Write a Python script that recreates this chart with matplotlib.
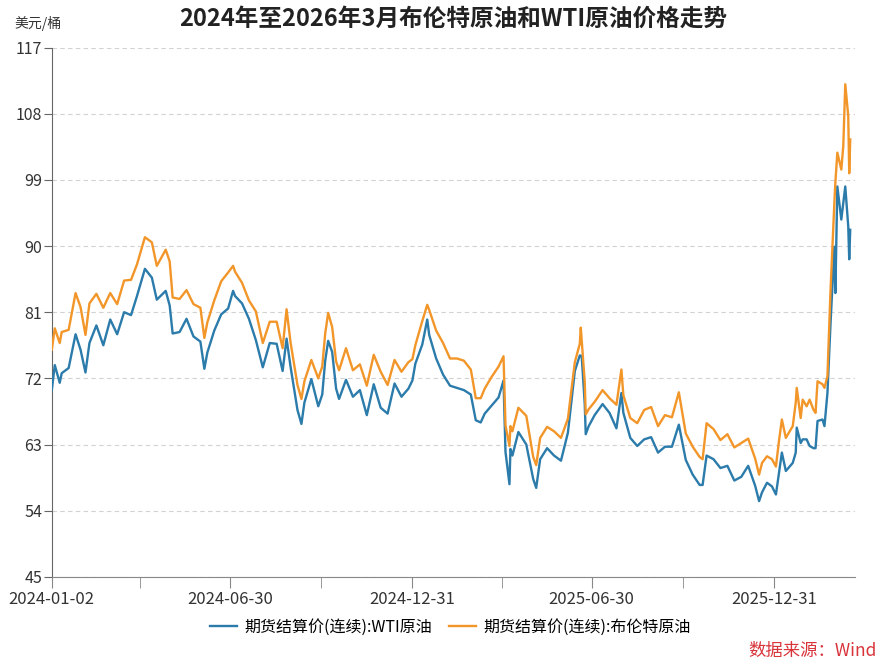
import matplotlib
matplotlib.use("Agg")
import matplotlib.pyplot as plt
import pandas as pd

plt.rcParams["font.family"] = ["Noto Sans CJK SC", "DejaVu Sans"]

TITLE = "2024年至2026年3月布伦特原油和WTI原油价格走势"
UNIT = "美元/桶"
SOURCE = "数据来源：Wind"
LABEL_WTI = "期货结算价(连续):WTI原油"
LABEL_BRENT = "期货结算价(连续):布伦特原油"

dates = [
    "2024-01-02", "2024-01-05", "2024-01-10", "2024-01-12", "2024-01-19", "2024-01-26",
    "2024-01-31", "2024-02-05", "2024-02-09", "2024-02-16", "2024-02-23", "2024-03-01",
    "2024-03-08", "2024-03-15", "2024-03-22", "2024-03-28", "2024-04-05", "2024-04-12",
    "2024-04-17", "2024-04-26", "2024-04-30", "2024-05-03", "2024-05-10", "2024-05-17",
    "2024-05-24", "2024-05-31", "2024-06-04", "2024-06-07", "2024-06-14", "2024-06-21",
    "2024-06-28", "2024-07-03", "2024-07-05", "2024-07-12", "2024-07-19", "2024-07-26",
    "2024-08-02", "2024-08-09", "2024-08-16", "2024-08-22", "2024-08-26", "2024-08-30",
    "2024-09-06", "2024-09-10", "2024-09-13", "2024-09-20", "2024-09-27", "2024-10-01",
    "2024-10-04", "2024-10-07", "2024-10-11", "2024-10-15", "2024-10-18", "2024-10-25",
    "2024-11-01", "2024-11-08", "2024-11-15", "2024-11-22", "2024-11-29", "2024-12-06",
    "2024-12-13", "2024-12-20", "2024-12-27", "2024-12-31", "2025-01-03", "2025-01-10",
    "2025-01-15", "2025-01-17", "2025-01-24", "2025-01-31", "2025-02-07", "2025-02-14",
    "2025-02-21", "2025-02-28", "2025-03-05", "2025-03-10", "2025-03-14", "2025-03-21",
    "2025-03-28", "2025-04-02", "2025-04-04", "2025-04-08", "2025-04-09", "2025-04-11",
    "2025-04-17", "2025-04-25", "2025-05-02", "2025-05-05", "2025-05-09", "2025-05-16",
    "2025-05-23", "2025-05-30", "2025-06-06", "2025-06-13", "2025-06-18", "2025-06-19",
    "2025-06-20", "2025-06-23", "2025-06-24", "2025-06-27", "2025-07-03", "2025-07-11",
    "2025-07-18", "2025-07-25", "2025-07-30", "2025-08-01", "2025-08-08", "2025-08-15",
    "2025-08-22", "2025-08-29", "2025-09-05", "2025-09-12", "2025-09-19", "2025-09-26",
    "2025-10-03", "2025-10-10", "2025-10-17", "2025-10-20", "2025-10-24", "2025-10-31",
    "2025-11-07", "2025-11-14", "2025-11-21", "2025-11-28", "2025-12-05", "2025-12-12",
    "2025-12-16", "2025-12-19", "2025-12-24", "2025-12-29", "2026-01-02", "2026-01-05",
    "2026-01-08", "2026-01-12", "2026-01-19", "2026-01-22", "2026-01-23", "2026-01-27",
    "2026-01-29", "2026-02-02", "2026-02-05", "2026-02-09", "2026-02-11", "2026-02-13",
    "2026-02-18", "2026-02-20", "2026-02-23", "2026-02-26", "2026-03-02", "2026-03-03",
    "2026-03-05", "2026-03-09", "2026-03-11", "2026-03-13", "2026-03-16", "2026-03-17",
    "2026-03-18",
]

wti = [
    70.4, 73.8, 71.4, 72.7, 73.4, 78.0,
    75.9, 72.8, 76.8, 79.2, 76.5, 80.0,
    78.0, 81.0, 80.6, 83.2, 86.9, 85.7,
    82.7, 83.9, 81.9, 78.1, 78.3, 80.1,
    77.7, 77.0, 73.3, 75.5, 78.5, 80.7,
    81.5, 83.9, 83.2, 82.2, 80.1, 77.2,
    73.5, 76.8, 76.7, 73.0, 77.4, 73.6,
    67.7, 65.8, 68.7, 71.9, 68.2, 69.8,
    74.4, 77.1, 75.6, 70.6, 69.2, 71.8,
    69.5, 70.4, 67.0, 71.2, 68.0, 67.2,
    71.3, 69.5, 70.6, 71.7, 74.0, 76.6,
    80.0, 77.9, 74.7, 72.5, 71.0, 70.7,
    70.4, 69.8, 66.3, 66.0, 67.2, 68.3,
    69.4, 71.7, 62.0, 57.6, 62.4, 61.5,
    64.7, 63.0, 58.3, 57.1, 61.0, 62.5,
    61.5, 60.8, 64.6, 73.0, 75.1, 75.1,
    74.9, 68.5, 64.4, 65.5, 67.0, 68.5,
    67.3, 65.2, 70.0, 67.3, 63.9, 62.8,
    63.7, 64.0, 61.9, 62.7, 62.7, 65.7,
    60.9, 58.9, 57.5, 57.5, 61.5, 61.0,
    59.8, 60.1, 58.1, 58.6, 60.1, 57.4,
    55.3, 56.5, 57.8, 57.3, 56.2, 59.1,
    61.9, 59.4, 60.5, 61.9, 65.3, 63.2,
    63.7, 63.7, 62.8, 62.5, 62.5, 66.2,
    66.4, 65.5, 70.0, 79.1, 89.9, 83.6,
    98.1, 93.6, 95.9, 98.1, 92.7, 88.2,
    92.2,
]

brent = [
    75.9, 78.8, 76.8, 78.3, 78.6, 83.6,
    81.7, 77.9, 82.2, 83.5, 81.6, 83.6,
    82.1, 85.3, 85.4, 87.5, 91.2, 90.5,
    87.3, 89.5, 87.9, 83.0, 82.8, 84.0,
    82.1, 81.6, 77.5, 79.6, 82.6, 85.2,
    86.4, 87.3, 86.5, 85.0, 82.6, 81.1,
    76.8, 79.7, 79.7, 76.1, 81.4, 76.9,
    71.1, 69.2, 71.6, 74.5, 72.0, 73.6,
    78.1, 80.9, 79.0, 74.3, 73.1, 76.1,
    73.1, 73.9, 71.0, 75.2, 72.9, 71.1,
    74.5, 72.9, 74.2, 74.6, 76.5, 79.8,
    82.0, 81.3, 78.5, 76.8, 74.7, 74.7,
    74.4, 73.2, 69.3, 69.3, 70.6, 72.2,
    73.6, 75.0, 65.6, 62.8, 65.5, 64.8,
    68.0, 66.9, 61.3, 60.2, 63.9, 65.4,
    64.8, 63.9, 66.5, 74.2, 76.7, 78.9,
    77.0, 71.5, 67.1, 67.8, 68.8, 70.4,
    69.3, 68.4, 73.2, 69.7, 66.6, 65.9,
    67.7, 68.1, 65.5, 67.0, 66.7, 70.1,
    64.5, 62.7, 61.3, 61.0, 65.9, 65.1,
    63.6, 64.4, 62.6, 63.2, 63.8, 61.1,
    58.9, 60.5, 61.4, 61.0, 60.0, 63.4,
    66.4, 63.9, 65.5, 68.7, 70.7, 66.6,
    69.1, 68.2, 69.1, 67.7, 67.3, 71.6,
    71.2, 70.7, 72.3, 83.6, 95.9, 98.6,
    102.7, 100.4, 103.6, 112.0, 107.7, 99.9,
    104.5,
]

labeled_ticks = ["2024-01-02", "2024-06-30", "2024-12-31", "2025-06-30", "2025-12-31"]
minor_ticks = ["2024-03-31", "2024-09-30", "2025-03-31", "2025-09-30"]
y_ticks = [45, 54, 63, 72, 81, 90, 99, 108, 117]

COLOR_WTI = "#2b7bab"
COLOR_BRENT = "#f2962a"

x = pd.to_datetime(dates)

fig = plt.figure(figsize=(8.78, 6.6), dpi=100, facecolor="white")
ax = fig.add_axes([0.059, 0.126, 0.915, 0.802])

ax.plot(x, wti, color=COLOR_WTI, lw=1.7, label=LABEL_WTI, zorder=3)
ax.plot(x, brent, color=COLOR_BRENT, lw=1.7, label=LABEL_BRENT, zorder=4)

ax.set_ylim(45, 117)
ax.set_yticks(y_ticks)
ax.set_xlim(pd.Timestamp("2024-01-02"), pd.Timestamp("2026-03-23"))
ax.set_xticks(pd.to_datetime(labeled_ticks))
ax.set_xticklabels(labeled_ticks)
ax.set_xticks(pd.to_datetime(minor_ticks), minor=True)

ax.grid(axis="y", color="#d2d2d2", linestyle=(0, (4, 3)), linewidth=0.8)
ax.set_axisbelow(True)
for s in ("top", "right"):
    ax.spines[s].set_visible(False)
ax.spines["left"].set_color("#666666")
ax.spines["bottom"].set_color("#888888")
ax.tick_params(axis="y", length=6, color="#666666", labelsize=11.5,
               labelcolor="#333333", pad=1)
ax.tick_params(axis="x", which="both", length=8, color="#888888",
               labelsize=12, labelcolor="#333333", pad=2)

fig.text(0.516, 0.972, TITLE, ha="center", va="center", fontsize=17,
         fontweight="bold", color="#222222")
fig.text(0.017, 0.964, UNIT, ha="left", va="center", fontsize=10,
         color="#333333")

fig.legend(loc="center", bbox_to_anchor=(0.513, 0.05), ncol=2, frameon=False,
           fontsize=11.5, handlelength=1.7, columnspacing=1.0,
           handletextpad=0.5)
fig.text(0.998, 0.014, SOURCE, ha="right", va="center", fontsize=12.5,
         color="#d8343a")

fig.savefig("out.png", dpi=100, facecolor="white")
